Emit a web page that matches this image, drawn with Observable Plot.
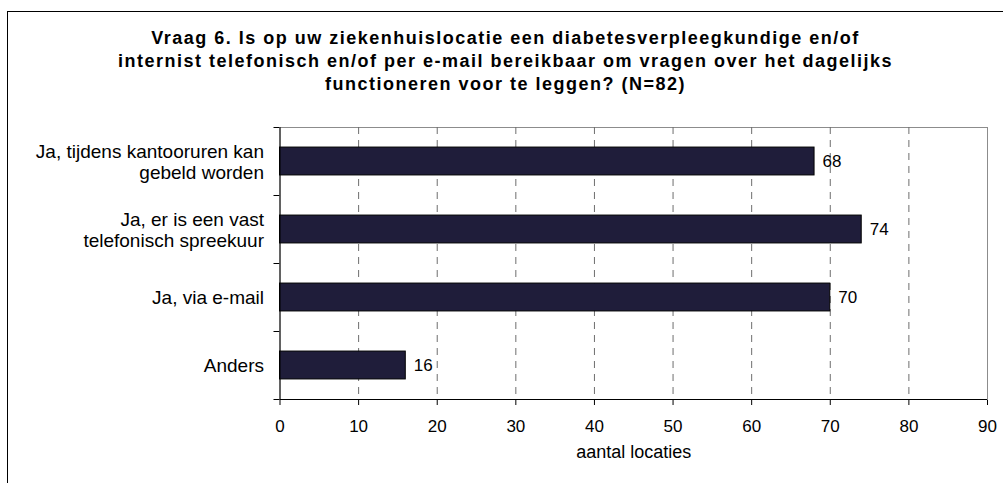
<!DOCTYPE html>
<html>
<head>
<meta charset="utf-8">
<script src="https://cdn.jsdelivr.net/npm/d3@7"></script>
<script src="https://cdn.jsdelivr.net/npm/@observablehq/plot@0.6"></script>
<style>
  html, body { margin: 0; padding: 0; background: #fff; }
  #wrap { position: relative; width: 1003px; height: 483px; overflow: hidden; background: #fff;
          font-family: "Liberation Sans", Arial, sans-serif; }
  #box { position: absolute; left: 7px; top: 11px; width: 1020px; height: 520px; border: 1px solid #000; }
  #title { position: absolute; left: 8px; width: 995px; top: 27px; text-align: center;
           font-weight: bold; font-size: 18px; line-height: 23px; letter-spacing: 1.5px; color: #000; }
  #chart { position: absolute; left: 0; top: 110px; }
</style>
</head>
<body>
<div id="wrap">
  <div id="box"></div>
  <div id="title"></div>
  <div id="chart"></div>
</div>
<script>
const titleLines = [
  "Vraag 6. Is op uw ziekenhuislocatie een diabetesverpleegkundige en/of",
  "internist telefonisch en/of per e-mail bereikbaar om vragen over het dagelijks",
  "functioneren voor te leggen? (N=82)"
];
const categories = [
  "Ja, tijdens kantooruren kan\ngebeld worden",
  "Ja, er is een vast\ntelefonisch spreekuur",
  "Ja, via e-mail",
  "Anders"
];
const values = [68, 74, 70, 16];
const xTicks = [0, 10, 20, 30, 40, 50, 60, 70, 80, 90];
const xLabel = "aantal locaties";

document.getElementById("title").innerHTML = titleLines.join("<br>");

const data = categories.map((c, i) => ({cat: c, idx: i, value: values[i]}));
const gridTicks = xTicks.filter(t => t > 0 && t < 90);

const chart = Plot.plot({
  width: 1003,
  height: 373,
  marginTop: 17,
  marginBottom: 84,
  marginLeft: 279.5,
  marginRight: 16,
  style: {fontFamily: "'Liberation Sans', Arial, sans-serif", fontSize: "17px", color: "#000", background: "transparent"},
  x: {domain: [0, 90], ticks: xTicks, tickSize: 6, tickPadding: 14, label: null},
  y: {domain: [0, 4], reverse: true, ticks: 4, tickSize: 6, tickFormat: () => "", label: null},
  marks: [
    Plot.frame({stroke: "#8c8c8c"}),
    Plot.ruleX(gridTicks, {stroke: "#6e6e6e", strokeDasharray: "7,6"}),
    Plot.rect(data, {x1: d => 0, x2: "value", y1: d => d.idx + 0.295, y2: d => d.idx + 0.705,
                     fill: "#1f1d3a", stroke: "#000", strokeWidth: 1}),
    Plot.ruleX([0], {stroke: "#000"}),
    Plot.ruleY([4], {stroke: "#000"}),
    Plot.text(data, {frameAnchor: "left", y: d => d.idx + 0.5, text: "cat", textAnchor: "end",
                     dx: -16, fontSize: 19, lineHeight: 1.1, fill: "#000", ariaLabel: "ylabels"}),
    Plot.text(data, {x: "value", y: d => d.idx + 0.5, text: d => String(d.value), textAnchor: "start",
                     dx: 8, fontSize: 17, fill: "#000"}),
    Plot.text([xLabel], {frameAnchor: "bottom", text: d => d, dy: 58, fontSize: 18, fill: "#000",
                         ariaLabel: "xtitle"})
  ]
});
document.getElementById("chart").appendChild(chart);

d3.select(chart).selectAll('g[aria-label="xtitle"] text').style("letter-spacing", "0.9px");

// centre multi-line category labels on their longest line (right edge stays fixed)
d3.select(chart).selectAll('g[aria-label="ylabels"] text').each(function() {
  const t = d3.select(this).style("letter-spacing", "0.3px");
  const spans = t.selectAll("tspan");
  let w;
  if (spans.size() > 0) {
    w = d3.max(spans.nodes(), n => n.getComputedTextLength());
    t.attr("text-anchor", "middle");
    spans.attr("x", -w / 2);
  } else {
    w = this.getComputedTextLength();
    t.attr("text-anchor", "middle").attr("x", -w / 2);
  }
});
</script>
</body>
</html>
